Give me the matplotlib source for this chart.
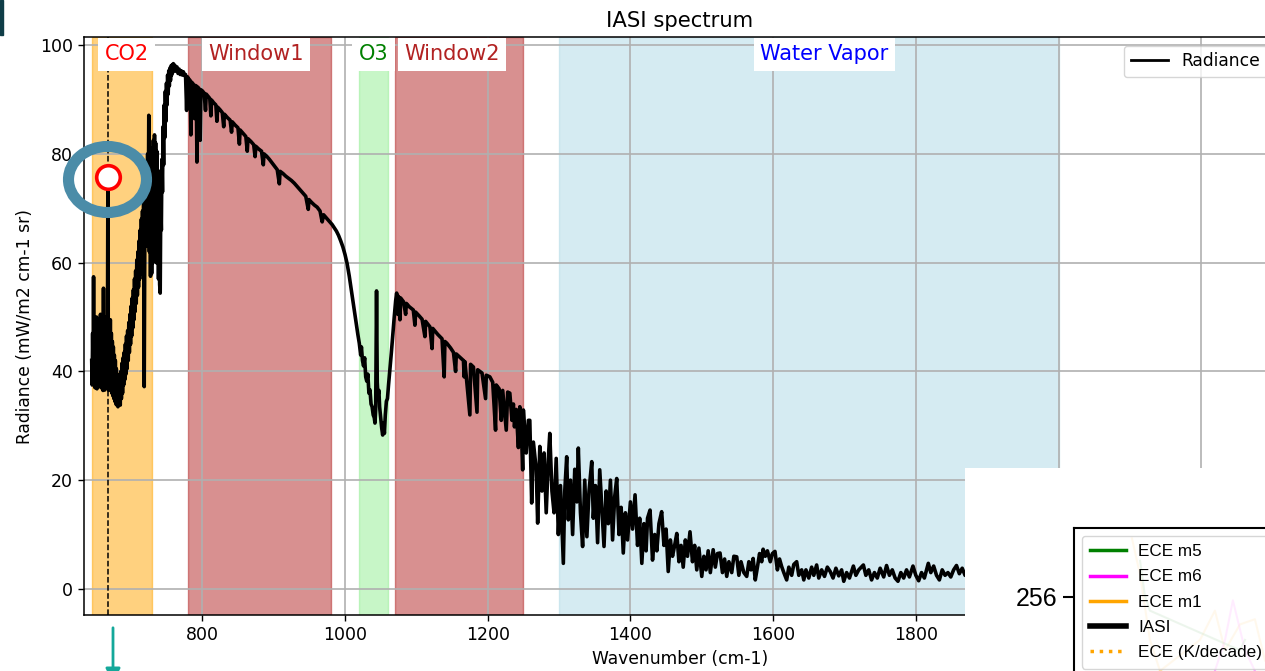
import numpy as np
import matplotlib
matplotlib.use("Agg")
import matplotlib.pyplot as plt
from matplotlib.patches import Rectangle, Ellipse, FancyArrowPatch
from matplotlib.lines import Line2D

# spectrum, (wavenumber cm-1, radiance mW/m2 cm-1 sr)
co2_seg = [
    (645.0, 42.0), (645.6, 37.5), (646.3, 47.0), (647.0, 39.0), (647.6, 57.4), (648.2, 40.0),
    (648.9, 49.0), (649.6, 37.0), (650.3, 47.5), (651.0, 38.5), (651.7, 50.0), (652.4, 36.8),
    (653.1, 46.0), (653.8, 39.5), (654.5, 49.0), (655.2, 37.5), (655.9, 48.0), (656.6, 38.0),
    (657.3, 50.5), (658.0, 37.0), (658.7, 46.5), (659.4, 40.0), (660.1, 48.5), (660.8, 36.5),
    (661.5, 55.3), (662.2, 38.0), (662.9, 47.0), (663.6, 36.6), (664.3, 48.0), (665.0, 39.0),
    (665.7, 50.0), (666.4, 37.0), (667.1, 47.0), (667.7, 75.7), (668.3, 42.0), (669.0, 36.5),
    (669.7, 48.0), (670.4, 38.0), (671.1, 49.5), (671.8, 37.0), (672.5, 47.0), (673.2, 36.0),
    (673.9, 45.5), (674.6, 35.5), (675.3, 44.5), (676.0, 35.0), (676.7, 43.0), (677.4, 34.5),
    (678.1, 42.0), (678.8, 34.0), (679.5, 40.5), (680.2, 33.8), (681.0, 39.0), (681.8, 33.5),
    (682.6, 38.5), (683.4, 34.0), (684.2, 39.5), (685.0, 33.8), (685.8, 40.0), (686.6, 35.0),
    (687.4, 41.5), (688.2, 36.0), (689.0, 42.5), (689.8, 37.5),
    (690.6, 43.5), (691.4, 38.5), (692.2, 45.0), (693.0, 39.5), (693.8, 46.5), (694.6, 40.5),
    (695.4, 47.5), (696.2, 42.0), (697.0, 49.0), (697.8, 43.5), (698.6, 50.5), (699.4, 45.0),
    (700.2, 52.0), (701.0, 46.5), (701.8, 53.5), (702.6, 48.0), (703.4, 55.0), (704.2, 49.5),
    (705.0, 57.0), (705.8, 51.0), (706.6, 58.5), (707.4, 52.5), (708.2, 60.5), (709.0, 54.0),
    (709.8, 62.0), (710.6, 55.5), (711.4, 64.0), (712.2, 57.0), (713.0, 66.0), (713.8, 58.0),
    (714.6, 68.0), (715.4, 59.5), (716.2, 69.5), (717.0, 61.0), (717.8, 71.0), (718.6, 37.2),
    (719.4, 64.0), (720.2, 73.0), (721.0, 63.0), (721.8, 76.0), (722.6, 65.0), (723.4, 80.0),
    (724.2, 66.0), (725.0, 87.1), (725.8, 62.0), (726.6, 80.0), (727.4, 57.5), (728.2, 78.5),
    (729.0, 58.0), (729.8, 81.0), (730.6, 60.0), (731.4, 82.5), (732.2, 61.0), (733.0, 83.5),
    (733.8, 62.0), (734.6, 82.0), (735.4, 60.0), (736.2, 80.5), (737.0, 63.0), (737.8, 77.0),
    (738.6, 57.0), (739.4, 73.0), (740.2, 56.0), (741.0, 54.4), (741.8, 71.0), (742.6, 66.0),
    (743.4, 79.0), (744.2, 73.0), (745.0, 85.0), (745.8, 78.0), (746.6, 89.0), (747.4, 83.0),
    (748.2, 91.5), (749.0, 86.0), (749.8, 93.0), (750.6, 89.0), (751.4, 94.5), (752.2, 91.0),
    (753.0, 95.3), (753.8, 92.5), (754.6, 95.8), (755.4, 93.5), (756.2, 96.2), (757.0, 94.5),
    (757.8, 96.4), (758.6, 95.0), (759.4, 96.6), (760.2, 95.8), (761.5, 96.3), (763.0, 95.2),
    (764.5, 96.0), (766.0, 94.8), (767.5, 95.6), (769.0, 94.6), (770.5, 95.3), (772.0, 94.5),
    (773.5, 95.1), (775.0, 94.4),
]
window1_seg = [
    (776.5, 94.6), (778.0, 88.0), (779.0, 94.2), (781.0, 93.8), (783.0, 93.5), (784.0, 83.5),
    (785.0, 93.2), (787.0, 92.9), (789.0, 86.5), (790.0, 92.6), (791.5, 92.5), (792.5, 78.5),
    (793.5, 92.3), (795.5, 92.0), (797.0, 82.5), (798.0, 91.8), (800.0, 91.6), (802.5, 91.2),
    (804.5, 88.0), (805.5, 91.0), (808.0, 90.6), (810.5, 90.2), (812.0, 87.0), (813.0, 89.9),
    (816.0, 89.4), (819.0, 89.0), (820.5, 86.0), (821.5, 88.6), (825.0, 88.1), (828.0, 87.6),
    (830.0, 85.0), (831.0, 87.3), (835.0, 86.7), (839.0, 86.2), (841.0, 84.0), (842.0, 85.9),
    (846.0, 85.3), (850.0, 84.8), (852.0, 81.8), (853.0, 84.4), (857.0, 83.8), (861.0, 83.2),
    (863.0, 80.5), (864.0, 82.8), (868.0, 82.3), (872.0, 81.7), (874.0, 79.5), (875.0, 81.4),
    (879.0, 80.9), (883.0, 80.5), (885.5, 78.0), (886.5, 80.0), (890.0, 79.6), (894.0, 79.0),
    (898.0, 78.3), (902.0, 77.6), (905.0, 77.1), (908.0, 74.5), (909.0, 76.8), (913.0, 76.4),
    (917.0, 75.9), (921.0, 75.5), (925.0, 75.1), (929.0, 74.6), (933.0, 74.0), (937.0, 73.4),
    (941.0, 72.8), (945.0, 72.2), (948.5, 69.8), (949.5, 71.6), (953.0, 71.1), (957.0, 70.6),
    (961.0, 70.2), (965.0, 69.5), (968.0, 67.5), (970.0, 68.8), (974.0, 68.2), (978.0, 67.6),
    (982.0, 67.0), (985.0, 66.4), (988.0, 65.8), (991.0, 65.0), (994.0, 64.0), (997.0, 62.9),
]
o3_seg = [
    (1000.0, 61.5), (1003.0, 59.8), (1006.0, 57.5), (1009.0, 54.8), (1012.0, 52.0), (1015.0, 49.5),
    (1018.0, 46.8), (1020.0, 45.2), (1022.0, 43.0), (1023.0, 44.5), (1024.5, 42.0), (1026.0, 41.0),
    (1027.5, 42.5), (1029.0, 39.0), (1030.5, 38.2), (1032.0, 39.5), (1033.5, 36.0), (1035.0, 36.6),
    (1036.5, 34.0), (1038.0, 33.5), (1039.5, 32.0), (1041.0, 31.5), (1042.0, 30.5), (1043.0, 33.0),
    (1044.2, 54.8), (1045.2, 38.0), (1046.2, 35.5), (1047.5, 36.5), (1048.5, 33.5), (1050.0, 31.5),
    (1051.5, 29.5), (1052.8, 28.3), (1054.0, 30.5), (1055.2, 28.6), (1056.5, 32.0), (1058.0, 34.5),
    (1059.5, 35.0), (1061.0, 37.5), (1063.0, 40.5), (1065.0, 43.5), (1067.0, 46.8), (1069.0, 50.0),
    (1071.0, 53.0), (1072.4, 54.4),
]
window2_seg = [
    (1074.0, 50.5), (1075.0, 53.8), (1077.0, 49.5), (1078.0, 53.5), (1082.0, 52.8), (1085.0, 50.5),
    (1086.0, 52.5), (1090.0, 51.9), (1095.7, 51.3), (1098.0, 48.5), (1099.0, 50.9), (1104.0, 50.2),
    (1108.0, 49.6), (1112.0, 46.4), (1113.0, 49.2), (1119.0, 48.2), (1122.0, 44.2), (1123.0, 47.9),
    (1130.0, 46.8), (1136.0, 46.0), (1139.0, 39.0), (1140.0, 45.5), (1142.6, 45.2), (1148.0, 44.3),
    (1152.0, 43.5), (1155.0, 40.0), (1156.0, 43.2), (1161.0, 42.6), (1166.0, 42.0), (1167.0, 39.0),
    (1168.0, 41.8), (1175.0, 32.0), (1176.0, 41.3), (1180.0, 40.8), (1185.0, 32.5), (1186.0, 40.3),
    (1192.0, 39.7), (1197.0, 35.0), (1198.0, 39.3), (1203.0, 39.0), (1207.0, 38.0), (1211.0, 29.2),
    (1212.0, 37.5), (1216.0, 36.8), (1219.0, 31.0), (1221.0, 36.5), (1226.0, 29.2), (1228.0, 36.2),
    (1231.0, 36.0), (1234.0, 31.0), (1236.0, 34.0), (1237.5, 29.8), (1240.0, 33.0), (1243.0, 26.0),
    (1245.0, 33.5), (1247.0, 30.0), (1249.0, 21.9), (1250.0, 32.9),
]
transition_seg = [
    (1254.0, 25.0), (1257.0, 31.0), (1259.0, 31.0), (1261.6, 15.8), (1264.0, 27.0), (1268.0, 22.0),
    (1270.0, 12.1), (1273.0, 26.2), (1276.0, 18.0), (1279.0, 25.0), (1282.0, 14.0), (1285.0, 24.0),
    (1287.0, 28.6), (1290.0, 18.0), (1293.0, 14.0), (1296.0, 24.0), (1299.0, 10.0), (1302.0, 19.0),
]
vapor_seg = [
    (1306.0, 4.7), (1308.0, 18.0), (1310.7, 24.3), (1313.0, 12.7), (1316.0, 20.0), (1319.0, 10.0),
    (1322.0, 22.0), (1325.0, 16.0), (1327.0, 25.9), (1330.0, 14.0), (1333.0, 7.8), (1336.0, 20.0),
    (1339.0, 9.6), (1342.0, 18.0), (1345.8, 23.4), (1348.0, 13.0), (1351.0, 19.0), (1354.0, 8.5),
    (1357.0, 21.9), (1360.0, 15.0), (1363.0, 7.8), (1366.0, 18.0), (1369.0, 12.0), (1372.0, 20.0),
    (1375.0, 9.0), (1378.0, 17.0), (1380.8, 20.3), (1384.0, 10.0), (1387.0, 15.0), (1390.0, 6.6),
    (1393.0, 14.0), (1396.0, 9.0), (1400.0, 16.0), (1403.0, 11.0), (1406.5, 17.3), (1410.0, 8.0),
    (1413.0, 13.0), (1416.0, 4.7), (1419.0, 12.0), (1422.0, 7.0), (1424.0, 13.0), (1427.5, 14.5),
    (1431.0, 5.3), (1434.0, 10.0), (1437.0, 7.0), (1440.0, 12.0), (1443.8, 14.2), (1447.0, 8.0),
    (1450.0, 11.0), (1453.0, 3.2), (1456.0, 9.0), (1459.0, 6.0), (1462.0, 8.0), (1465.0, 10.2),
    (1468.0, 5.0), (1471.0, 8.0), (1474.0, 4.0), (1477.0, 9.0), (1480.0, 6.0), (1483.5, 10.5),
    (1487.0, 5.0), (1490.0, 8.0), (1493.0, 3.5), (1496.0, 7.5), (1500.0, 2.3), (1503.0, 6.0),
    (1506.0, 3.5), (1509.0, 7.0), (1512.0, 3.0), (1516.0, 7.2), (1519.0, 4.0), (1522.0, 6.5),
    (1525.6, 6.6), (1529.0, 3.0), (1532.0, 5.5), (1535.0, 2.3), (1538.0, 5.0), (1542.0, 3.0),
    (1545.0, 6.0), (1549.0, 5.9), (1552.0, 2.5), (1555.0, 5.0), (1559.0, 3.0), (1563.0, 2.3),
    (1566.0, 5.0), (1569.0, 3.5), (1572.0, 5.6), (1575.0, 1.65), (1578.0, 4.0), (1581.0, 6.5),
    (1584.0, 5.0), (1586.0, 7.3), (1589.0, 6.0), (1592.0, 7.0), (1596.0, 5.0), (1599.0, 6.5),
    (1602.6, 6.9), (1606.0, 3.5), (1609.0, 5.5), (1612.0, 4.1), (1615.0, 3.0), (1619.0, 1.65),
    (1622.0, 4.0), (1626.0, 2.5), (1629.0, 4.5), (1633.0, 5.0), (1636.0, 2.5), (1640.0, 3.5),
    (1643.0, 1.65), (1646.0, 3.5), (1650.0, 2.0), (1654.0, 4.0), (1657.0, 2.5), (1661.0, 4.4),
    (1664.0, 2.0), (1668.0, 3.5), (1672.0, 2.3), (1676.0, 4.0), (1680.0, 3.2), (1684.0, 2.0),
    (1688.0, 3.8), (1692.0, 2.4), (1696.0, 3.5), (1699.0, 1.4), (1703.0, 3.0), (1707.0, 2.0),
    (1712.5, 4.2), (1716.0, 2.5), (1720.0, 3.5), (1726.5, 4.4), (1730.0, 2.5), (1734.0, 3.5),
    (1738.0, 1.65), (1742.0, 3.0), (1746.0, 2.0), (1750.0, 3.8), (1755.0, 2.2), (1759.0, 4.3),
    (1763.0, 2.5), (1767.0, 3.5), (1771.0, 2.0), (1775.0, 1.4), (1779.0, 3.0), (1783.0, 2.0),
    (1787.0, 3.5), (1791.0, 2.2), (1796.0, 4.2), (1800.0, 2.5), (1804.0, 1.5), (1808.0, 3.0),
    (1812.0, 2.0), (1817.5, 4.7), (1821.0, 3.0), (1825.0, 4.2), (1829.0, 2.5), (1833.0, 1.65),
    (1837.0, 3.5), (1841.0, 2.5), (1845.0, 3.0), (1849.0, 2.2), (1853.0, 3.5), (1857.0, 4.3),
    (1861.0, 2.8), (1865.0, 3.8), (1869.0, 2.5), (1880.0, 3.0), (1900.0, 2.5), (1950.0, 2.8),
]

# spectral bands: (start, end, face colour, label, label colour, label x)
bands = [
    (645, 730, "orange", "CO2", "red", 694),
    (780, 980, "firebrick", "Window1", "firebrick", 875),
    (1020, 1060, "lightgreen", "O3", "green", 1040),
    (1070, 1250, "firebrick", "Window2", "firebrick", 1150),
    (1300, 2000, "lightblue", "Water Vapor", "blue", 1672),
]
co2_peak_wn = 667.7
co2_peak_rad = 75.7

# faint lines of the overlapping second chart (bottom right)
inset_m1_x = [2.29, 2.61, 3.0, 3.4, 4.98, 5.57, 5.97, 6.56, 7.15, 7.55]
inset_m1_y = [259.4, 257.3, 253.5, 251.7, 253.5, 255.2, 252.9, 254.4, 254.7, 252.3]
inset_m6_x = [5.57, 5.97, 6.28, 6.76, 7.15]
inset_m6_y = [251.7, 253.5, 255.8, 252.9, 251.7]
inset_m5_x = [2.61, 2.8, 3.0, 6.56, 6.76]
inset_m5_y = [258.1, 256.1, 255.2, 252.9, 253.5]

spectrum = np.array(co2_seg + window1_seg + o3_seg + window2_seg + transition_seg + vapor_seg)

W, H = 1265, 671
fig = plt.figure(figsize=(W / 100, H / 100), dpi=100)
ax = fig.add_axes([84 / W, 56 / H, 1192 / W, 578 / H])

for start, end, col, lab, tcol, tx in bands:
    ax.axvspan(start, end, color=col, alpha=0.5, zorder=1)
    ax.text(tx, 98.3, lab, color=tcol, fontsize=15, ha="center", va="center", zorder=6,
            bbox=dict(facecolor="white", edgecolor="none", pad=4.5), clip_on=False)

ax.plot(spectrum[:, 0], spectrum[:, 1], color="black", lw=2.6, label="Radiance", zorder=3)
ax.axvline(co2_peak_wn, color="black", ls="--", lw=1.1, zorder=2)
ax.plot([co2_peak_wn], [co2_peak_rad], "o", ms=17, mfc="white", mec="red", mew=2.6, zorder=5)

ax.set_xlim(634.2, 2304.8)
ax.set_ylim(-4.8, 101.5)
ax.grid(True, color="#b0b0b0", lw=1.2)
ax.tick_params(labelsize=12.5, length=4.4, width=1)
for s in ax.spines.values():
    s.set_linewidth(1.1)
ax.set_title("IASI spectrum", fontsize=15.2, pad=7.5)
ax.set_xlabel("Wavenumber (cm-1)", fontsize=12.3)
ax.set_ylabel("Radiance (mW/m2 cm-1 sr)", fontsize=12.3)
leg = ax.legend(loc="upper right", fontsize=12.3, handlelength=2.2)
for h in leg.get_lines():
    h.set_linewidth(2)

# screenshot overlays
fig.patches.append(Rectangle((0, 1 - 35 / H), 2.5 / W, 35 / H, transform=fig.transFigure,
                             color="#0f3d47", zorder=10))
fig.patches.append(Ellipse((107.5 / W, 1 - 179.5 / H), 78 / W, 66 / H, transform=fig.transFigure,
                           fill=False, edgecolor="#4b8ca8", lw=8, zorder=10))
fig.patches.append(Rectangle((965 / W, 0), 300 / W, 203 / H, transform=fig.transFigure,
                             facecolor="white", edgecolor="none", zorder=1))
fig.add_artist(FancyArrowPatch(
    (113 / W, 1 - 625 / H), (113 / W, 1 - 686 / H), transform=fig.transFigure,
    arrowstyle="-|>", mutation_scale=22, color="#14a89a", lw=2, zorder=10))

inset = fig.add_axes([1074 / W, -0.3, 0.2, 143 / H + 0.3], zorder=2)
inset.plot(inset_m1_x, inset_m1_y, color="orange", lw=1.5, alpha=0.35)
inset.plot(inset_m6_x, inset_m6_y, color="magenta", lw=1.5, alpha=0.35)
inset.plot(inset_m5_x, inset_m5_y, color="green", lw=1.5, alpha=0.35)
inset.set_xlim(0, 10)
inset.set_ylim(240, 260)
inset.set_xticks([])
inset.set_yticks([256])
inset.set_yticklabels(["256"], family="Liberation Sans", fontsize=18)
inset.tick_params(axis="y", length=8, width=1.5, pad=4)
for s in inset.spines.values():
    s.set_linewidth(1.5)
handles = [
    Line2D([], [], color="green", lw=2.5),
    Line2D([], [], color="magenta", lw=2.5),
    Line2D([], [], color="orange", lw=2.5),
    Line2D([], [], color="black", lw=4),
    Line2D([], [], color="orange", lw=2.5, ls=":"),
]
inset.legend(handles, ["ECE m5", "ECE m6", "ECE m1", "IASI", "ECE (K/decade)"],
             loc="upper left", prop={"family": "Liberation Sans", "size": 12.3},
             handlelength=2.1, handletextpad=0.7, labelspacing=0.6,
             borderpad=0.5, borderaxespad=0.45)

fig.savefig("out.png", dpi=100)
